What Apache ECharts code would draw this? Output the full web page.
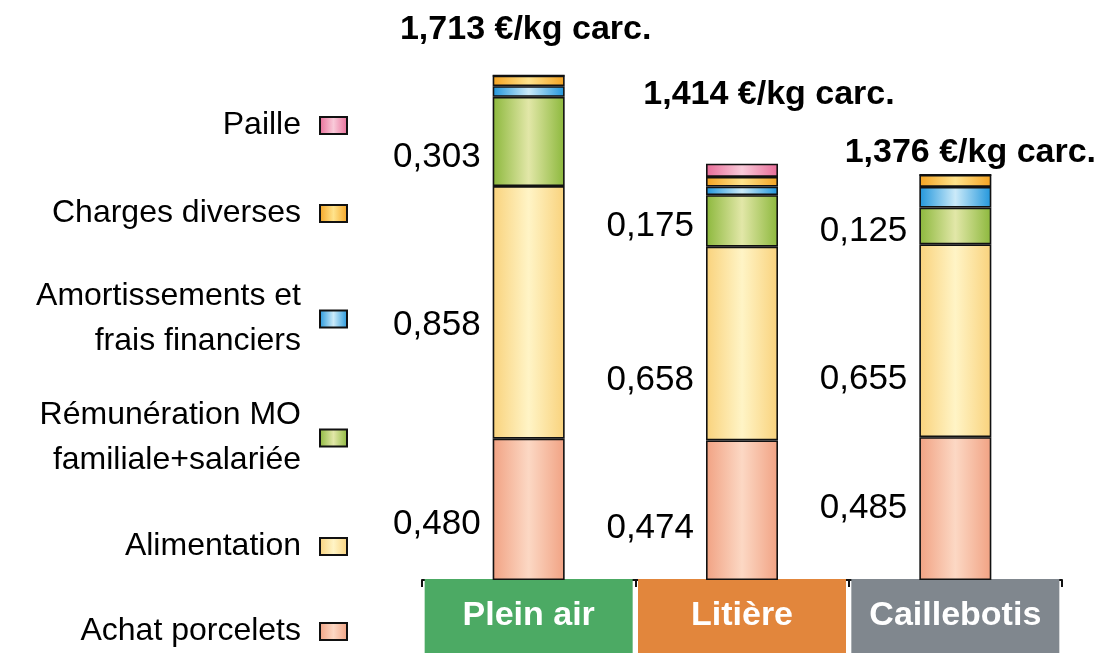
<!DOCTYPE html>
<html>
<head>
<meta charset="utf-8">
<script src="https://cdn.jsdelivr.net/npm/echarts@6/dist/echarts.min.js"></script>
<style>html,body{margin:0;padding:0;background:#fff}#c{width:1099px;height:654px}</style>
</head>
<body>
<div id="c"></div>
<script>
// ---- data ----
const categories = ['Plein air', 'Litière', 'Caillebotis'];
const seriesNames = ['Achat porcelets', 'Alimentation', 'Rémunération MO\nfamiliale+salariée', 'Amortissements et\nfrais financiers', 'Charges diverses', 'Paille'];
const achat = [0.480, 0.474, 0.485];
const alimentation = [0.858, 0.658, 0.655];
const remuneration = [0.303, 0.175, 0.125];
const amortissements = [0.036, 0.029, 0.070];
const charges = [0.036, 0.033, 0.041];
const paille = [0, 0.045, 0];
const totals = [1.713, 1.414, 1.376];
const unitLabel = ' €/kg carc.';

// ---- layout / style (not data) ----
const edgeCenter = [
  ['#f1a283', '#fcd8c4'],
  ['#f9d27c', '#fff4c6'],
  ['#8cb83c', '#e2e7a8'],
  ['#2196dc', '#cbeaf9'],
  ['#f4a322', '#ffe38c'],
  ['#e86c98', '#f9cad9']
];
const labelShift = {
  0: [15, 18, 0],
  1: [13, 37, 39],
  2: [16, 5, 5]
};
const totalShift = [[-3, -46], [27, -69], [15, -22]];
const legendTop = [609, 524, 393, 274, 191, 103];
const boxColors = ['#4caa64', '#e2863c', '#80878e'];
const FONT = 'Liberation Sans, Arial, Helvetica, sans-serif';

function grad(i) {
  return {
    type: 'linear', x: 0, y: 0, x2: 1, y2: 0,
    colorStops: [
      { offset: 0, color: edgeCenter[i][0] },
      { offset: 0.5, color: edgeCenter[i][1] },
      { offset: 1, color: edgeCenter[i][0] }
    ]
  };
}
const fmt = v => v.toFixed(3).replace('.', ',');
const valueArrays = [achat, alimentation, remuneration, amortissements, charges, paille];

const series = valueArrays.map((arr, si) => ({
  name: seriesNames[si],
  type: 'bar',
  stack: 'cost',
  barWidth: 72,
  itemStyle: { color: grad(si), borderColor: '#111', borderWidth: 1.6 },
  label: labelShift[si] ? {
    show: true, position: 'left', distance: 12,
    fontFamily: FONT, fontSize: 35, color: '#000',
    formatter: p => fmt(p.value)
  } : { show: false },
  data: arr.map((v, ci) => labelShift[si]
    ? { value: v, label: { offset: [0, labelShift[si][ci]] } }
    : v)
}));

series.push({
  type: 'scatter',
  symbolSize: 0,
  silent: true,
  z: 10,
  itemStyle: { opacity: 1 },
  label: {
    show: true, position: 'inside',
    fontFamily: FONT, fontWeight: 'bold', fontSize: 34, color: '#000',
    formatter: p => fmt(p.value) + unitLabel
  },
  data: totals.map((t, ci) => ({
    value: t,
    label: { offset: totalShift[ci] }
  }))
});

const richBox = {};
['g', 'o', 's'].forEach((k, i) => {
  richBox[k] = {
    backgroundColor: boxColors[i], color: '#fff', fontWeight: 'bold',
    fontFamily: FONT,
    fontSize: 34, width: 208, height: 74, lineHeight: 68, align: 'center'
  };
});

const legends = seriesNames.map((n, i) => ({
  data: [n],
  orient: 'vertical',
  align: 'right',
  right: 751,
  top: legendTop[i],
  padding: 0,
  icon: 'rect',
  itemWidth: 27,
  itemHeight: 17,
  selectedMode: false,
  textStyle: {
    fontFamily: FONT, fontSize: 32, color: '#000',
    lineHeight: 45, padding: [0, 14, 0, 0]
  }
}));

const chart = echarts.init(document.getElementById('c'), null, { renderer: 'canvas' });
chart.setOption({
  animation: false,
  backgroundColor: '#fff',
  legend: legends,
  grid: { left: 422, right: 37, top: 50, bottom: 74, containLabel: false },
  xAxis: {
    type: 'category',
    data: categories,
    axisLine: { lineStyle: { color: '#111', width: 2 } },
    axisTick: { show: true, length: 7, lineStyle: { color: '#111', width: 2 } },
    axisLabel: {
      interval: 0, margin: 2, verticalAlign: 'top',
      formatter: (v, i) => '{' + ['g', 'o', 's'][i] + '|' + v + '}',
      rich: richBox
    }
  },
  yAxis: { type: 'value', min: 0, max: 1.8, show: false },
  series: series
});
</script>
</body>
</html>
